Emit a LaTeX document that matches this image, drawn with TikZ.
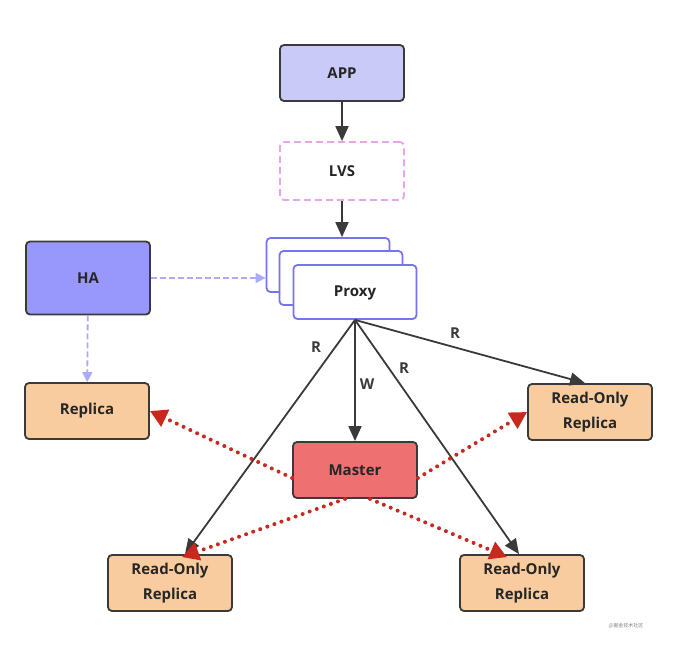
\documentclass[tikz,border=0pt]{standalone}
\usepackage{fontspec}
\setmainfont{Open Sans}
\newfontfamily\cjkfont{Noto Sans CJK SC}
\usepackage{tikz}
\usetikzlibrary{positioning, arrows.meta, calc}
\definecolor{cEdge}     {HTML}{3A3A3A}
\definecolor{cApp}      {HTML}{CACAF8}
\definecolor{cLvs}      {HTML}{E8A6EA}
\definecolor{cProxy}    {HTML}{7474EC}
\definecolor{cHA}       {HTML}{9898FC}
\definecolor{cHALink}   {HTML}{ABABFA}
\definecolor{cReplica}  {HTML}{F8CC9E}
\definecolor{cMaster}   {HTML}{EE7070}
\definecolor{cSync}     {HTML}{C8281E}
\tikzset{
  box/.style={draw=cEdge, line width=1.8pt, rounded corners=4pt,
    minimum width=124pt, minimum height=56pt, inner sep=2pt,
    font=\bfseries\fontsize{15}{25}\selectfont, text=black!85, align=center},
  flow/.style={draw=cEdge, line width=1.8pt,
    -{Triangle[length=15pt, width=13pt]}},
  halink/.style={draw=cHALink, line width=1.8pt, dash pattern=on 6pt off 3pt,
    -{Triangle[length=10pt, width=10pt]}},
  sync/.style={draw=cSync, line width=4pt, dash pattern=on 0pt off 7.5pt,
    line cap=round, -{Triangle[length=17pt, width=18pt, line cap=butt]}},
  rw/.style={font=\bfseries\fontsize{15}{18}\selectfont, text=cEdge},
}
\begin{document}
\begin{tikzpicture}[x=1pt, y=-1pt]
  \useasboundingbox (0,0) rectangle (681,665);

  % top chain
  \node[box, fill=cApp] (app) at (342,73) {APP};
  \node[box, draw=cLvs, dash pattern=on 7pt off 4pt, minimum height=58pt] (lvs) at (342,171) {LVS};

  % proxy stack
  \node[box, draw=cProxy, fill=white, minimum width=123pt, minimum height=54pt] (proxyc) at (328,265) {};
  \node[box, draw=cProxy, fill=white, minimum width=123pt, minimum height=54pt] (proxyb) at (341,278) {};
  \node[box, draw=cProxy, fill=white, minimum width=123pt, minimum height=54pt] (proxy) at (355,292) {\raisebox{-4pt}[0pt][0pt]{Proxy}};

  % HA and replicas
  \node[box, fill=cHA, minimum height=73pt] (ha) at (88,278) {HA};
  \node[box, fill=cReplica] (rep) at (87,411) {Replica};
  \node[box, fill=cReplica] (ror) at (590,412) {Read-Only\\Replica};
  \node[box, fill=cMaster] (master) at (355,470) {Master};
  \node[box, fill=cReplica] (rol) at (170,583) {Read-Only\\Replica};
  \node[box, fill=cReplica] (rob) at (522,583) {Read-Only\\Replica};

  \draw[flow] (app) -- (lvs);
  \draw[flow] (lvs) -- (lvs |- proxyc.north);
  \draw[halink] (ha) -- (proxyc.west |- ha);
  \draw[halink] (ha) -- (rep);

  % reads and writes
  \draw[flow] (proxy.south) -- (master);
  \draw[flow] (proxy.south) -- ([xshift=15pt]rol.north);
  \draw[flow] (proxy.south) -- ([xshift=-3pt]rob.north);
  \draw[flow] (proxy.south) -- ([xshift=-5pt]ror.north);
  \node[rw] (lblr1) at (316,347) {R};
  \node[rw] (lblw) at (367,384) {W};
  \node[rw] (lblr2) at (404,368) {R};
  \node[rw] (lblr3) at (455,333) {R};

  % replication
  \draw[sync] ([yshift=-8pt]master.west) -- (rep.east);
  \draw[sync] ([yshift=-8pt]master.east) -- (ror.west);
  \draw[sync] ([xshift=-10pt]master.south) -- ([xshift=12pt, yshift=-3pt]rol.north);
  \draw[sync] ([xshift=15pt]master.south) -- ([xshift=-15pt, yshift=-3pt]rob.north);

  \node[font=\cjkfont\fontsize{5}{6}\selectfont, text=gray] (mark) at (626,626) {@掘金技术社区};
\end{tikzpicture}
\end{document}
